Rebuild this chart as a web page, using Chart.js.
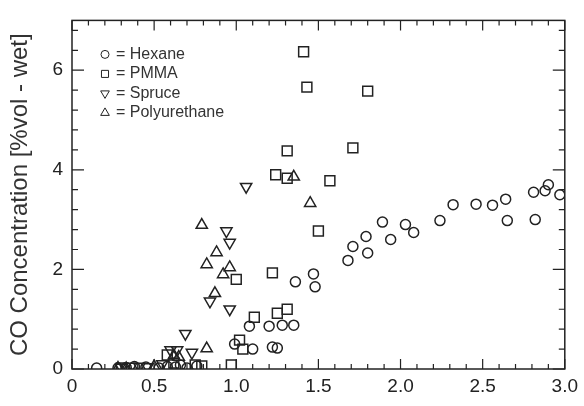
<!DOCTYPE html>
<html>
<head>
<meta charset="utf-8">
<script src="https://cdn.jsdelivr.net/npm/chart.js@4.4.1/dist/chart.umd.min.js"></script>
<style>
  html, body { margin: 0; padding: 0; background: #fff; }
  #wrap { width: 584px; height: 406px; }
</style>
</head>
<body>
<div id="wrap"><canvas id="coChart" width="584" height="406"></canvas></div>
<script>
// valores: [razão x, CO %vol]
const hexane = [
  [0.15, 0.02], [0.28, 0.02], [0.33, 0.03], [0.38, 0.05], [0.45, 0.04], [0.53, 0.02],
  [0.58, 0.05], [0.63, 0.04], [0.66, 0.08], [0.70, 0.02], [0.76, 0.06],
  [0.99, 0.50], [1.08, 0.86], [1.10, 0.40], [1.20, 0.86], [1.22, 0.44], [1.25, 0.42],
  [1.28, 0.88], [1.35, 0.88], [1.36, 1.75], [1.47, 1.91], [1.48, 1.65],
  [1.68, 2.18], [1.71, 2.46], [1.79, 2.66], [1.80, 2.33], [1.89, 2.95], [1.94, 2.60],
  [2.03, 2.90], [2.08, 2.74], [2.24, 2.98], [2.32, 3.30], [2.46, 3.31], [2.56, 3.29],
  [2.64, 3.41], [2.65, 2.98], [2.81, 3.55], [2.82, 3.00], [2.88, 3.58], [2.90, 3.70],
  [2.97, 3.50]
];
const pmma = [
  [1.41, 6.37], [1.43, 5.66], [1.80, 5.58], [1.31, 4.38], [1.71, 4.44], [1.24, 3.90],
  [1.31, 3.83], [1.57, 3.78], [1.50, 2.77], [1.00, 1.80], [1.22, 1.93], [1.11, 1.04],
  [1.25, 1.12], [1.31, 1.20], [1.02, 0.58], [1.04, 0.40], [0.97, 0.08], [0.58, 0.28],
  [0.75, 0.08], [0.79, 0.06], [0.62, 0.12], [0.30, 0.02]
];
const spruce = [
  [1.06, 3.66], [0.94, 2.77], [0.96, 2.54], [0.84, 1.36], [0.96, 1.20], [0.69, 0.71],
  [0.60, 0.38], [0.64, 0.38], [0.73, 0.33], [0.36, 0.05], [0.41, 0.05], [0.46, 0.04],
  [0.30, 0.03], [0.55, 0.10]
];
const polyurethane = [
  [1.35, 3.86], [1.45, 3.33], [0.79, 2.89], [0.88, 2.34], [0.82, 2.10], [0.96, 2.04],
  [0.92, 1.90], [0.87, 1.52], [0.82, 0.41], [0.62, 0.27], [0.65, 0.24], [0.28, 0.02],
  [0.33, 0.01], [0.50, 0.05]
];

const seriesNames = ['Hexane', 'PMMA', 'Spruce', 'Polyurethane'];
const xTicks = [0, 0.5, 1.0, 1.5, 2.0, 2.5, 3.0];
const xTickLabels = ['0', '0.5', '1.0', '1.5', '2.0', '2.5', '3.0'];
const yTicks = [0, 2, 4, 6];
const yTickLabels = ['0', '2', '4', '6'];
const yTitle = 'CO Concentration [%vol - wet]';

const INK = '#222';
const FONT = '"Liberation Sans", Arial, sans-serif';
const toPts = arr => arr.map(p => ({ x: p[0], y: p[1] }));

function mkSet(label, pts, style, radius, rotation) {
    return {
        label: label,
        data: toPts(pts),
        pointStyle: style,
        pointRadius: radius,
        pointRotation: rotation || 0,
        pointBorderWidth: 1.5,
        borderColor: INK,
        backgroundColor: 'rgba(255,255,255,0)',
        showLine: false
    };
}

// moldura com marcas para dentro (maiores e menores)
const frameTicks = {
    id: 'frameTicks',
    afterDatasetsDraw(chart) {
        const { ctx, chartArea: a, scales: { x, y } } = chart;
        ctx.save();
        ctx.strokeStyle = INK;
        ctx.lineWidth = 1.5;
        ctx.strokeRect(a.left, a.top, a.right - a.left, a.bottom - a.top);
        ctx.lineWidth = 1.2;
        ctx.beginPath();
        for (let i = 0; i <= 30; i++) {
            const px = x.getPixelForValue(i * 0.1);
            const len = i % 5 === 0 ? 10 : 5;
            ctx.moveTo(px, a.bottom); ctx.lineTo(px, a.bottom - len);
            ctx.moveTo(px, a.top); ctx.lineTo(px, a.top + len);
        }
        for (let i = 0; i <= 17; i++) {
            const py = y.getPixelForValue(i * 0.4);
            const len = i % 5 === 0 ? 12 : 6;
            ctx.moveTo(a.left, py); ctx.lineTo(a.left + len, py);
            ctx.moveTo(a.right, py); ctx.lineTo(a.right - len, py);
        }
        ctx.stroke();
        ctx.restore();
    }
};

// legenda dentro da área do gráfico: "○ = Hexane"
const innerLegend = {
    id: 'innerLegend',
    afterDatasetsDraw(chart) {
        const { ctx, chartArea: a } = chart;
        ctx.save();
        ctx.font = '16px ' + FONT;
        ctx.textBaseline = 'middle';
        chart.data.datasets.forEach((ds, i) => {
            const cx = a.left + 33;
            const cy = a.top + 34 + i * 19.5;
            ctx.strokeStyle = INK;
            ctx.fillStyle = 'rgba(255,255,255,0)';
            Chart.helpers.drawPoint(ctx, {
                pointStyle: ds.pointStyle,
                radius: ds.pointStyle === 'circle' ? 4 : 5,
                rotation: ds.pointRotation,
                borderWidth: 1.3
            }, cx, cy);
            ctx.fillStyle = '#333';
            ctx.fillText('= ' + seriesNames[i], cx + 11, cy);
        });
        ctx.restore();
    }
};

const ctx = document.getElementById('coChart').getContext('2d');
const chart = new Chart(ctx, {
    type: 'scatter',
    data: {
        datasets: [
            mkSet(seriesNames[0], hexane, 'circle', 5),
            mkSet(seriesNames[1], pmma, 'rect', 7),
            mkSet(seriesNames[2], spruce, 'triangle', 6.5, 180),
            mkSet(seriesNames[3], polyurethane, 'triangle', 6.5)
        ]
    },
    options: {
        responsive: false,
        animation: false,
        layout: { padding: { top: 17, right: 19, left: 0, bottom: 0 } },
        scales: {
            x: {
                type: 'linear',
                min: 0, max: 3.0,
                grid: { display: false, drawTicks: false },
                border: { display: false },
                afterBuildTicks: s => { s.ticks = xTicks.map(v => ({ value: v })); },
                afterFit: s => { s.height = 37; },
                ticks: {
                    padding: 6,
                    maxRotation: 0,
                    autoSkip: false,
                    color: INK,
                    font: { family: FONT, size: 19 },
                    callback: (v) => xTickLabels[xTicks.indexOf(v)] ?? ''
                }
            },
            y: {
                type: 'linear',
                min: 0, max: 7,
                grid: { display: false, drawTicks: false },
                border: { display: false },
                afterBuildTicks: s => { s.ticks = yTicks.map(v => ({ value: v })); },
                afterFit: s => { s.width = 72; },
                ticks: {
                    padding: 9,
                    autoSkip: false,
                    color: INK,
                    font: { family: FONT, size: 19 },
                    callback: (v) => yTickLabels[yTicks.indexOf(v)] ?? ''
                },
                title: {
                    display: true,
                    text: yTitle,
                    color: '#333',
                    padding: { top: 6, bottom: 0 },
                    font: { family: FONT, size: 24 }
                }
            }
        },
        plugins: {
            legend: { display: false },
            tooltip: { enabled: false }
        }
    },
    plugins: [frameTicks, innerLegend]
});
</script>
</body>
</html>
